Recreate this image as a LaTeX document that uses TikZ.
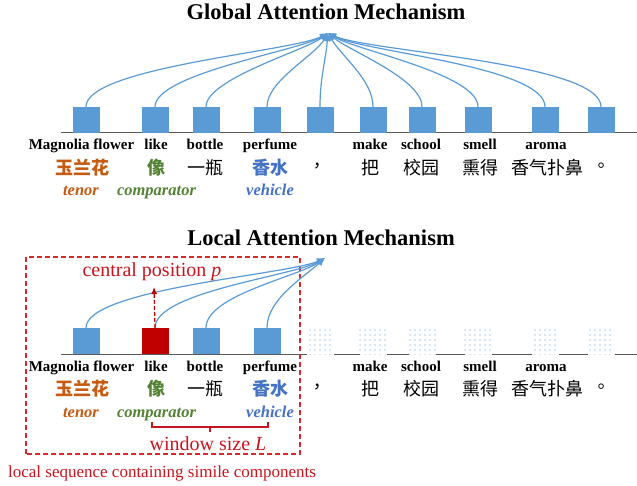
\documentclass[tikz,border=0pt]{standalone}
\usepackage{fontspec}
\setmainfont{Liberation Serif}
\newfontfamily\cjk{Noto Sans CJK SC}
\newfontfamily\cjkpunct{Noto Sans CJK TC}
\usetikzlibrary{arrows.meta,patterns.meta}

\definecolor{boxblue}{HTML}{5B9BD5}
\definecolor{boxred}{HTML}{C00000}
\definecolor{notered}{RGB}{200,20,30}
\definecolor{dashred}{RGB}{215,40,45}
\definecolor{tenorc}{HTML}{C55A11}
\definecolor{compc}{HTML}{548235}
\definecolor{vehc}{HTML}{4472C4}
\newcommand{\fs}[1]{\fontsize{#1}{#1}\selectfont}

\begin{document}
\begin{tikzpicture}[x=1pt, y=1pt,
        token/.style={fill=boxblue, minimum width=27pt, minimum height=26pt, inner sep=0pt},
        centre/.style={token, fill=boxred},
        hidden/.style={minimum width=27pt, minimum height=27pt, inner sep=0pt,
            preaction={fill=white}, pattern={Dots[distance=5pt, radius=0.7pt]}, pattern color=boxblue},
        word/.style={font=\bfseries\fs{15}, anchor=base, inner sep=0pt},
        hanzi/.style={font=\cjk\fs{18}, inner sep=0pt},
        punct/.style={font=\cjkpunct\fs{18}, inner sep=0pt},
        tenorhz/.style={hanzi, font=\cjk\bfseries\fs{18}, text=tenorc},
        comphz/.style={hanzi, font=\cjk\bfseries\fs{18}, text=compc},
        vehhz/.style={hanzi, font=\cjk\bfseries\fs{18}, text=vehc},
        role/.style={font=\bfseries\itshape\fs{16.5}, anchor=base, inner sep=0pt},
        heading/.style={font=\bfseries\fs{22.5}, anchor=base, inner sep=0pt},
        note/.style={text=notered, font=\fs{20}, anchor=base, inner sep=0pt},
        axis/.style={draw=black!65, line width=1pt},
        attn/.style={draw=boxblue, line width=1.2pt, -{Latex[length=8pt, width=7pt]}}
    ]
    \useasboundingbox (0,0) rectangle (637,485);

    \node[heading] (gt) at (326,465) {Global Attention Mechanism};
    \node[heading] (lt) at (321,239) {Local Attention Mechanism};

    % the two sentences
    \draw[axis] (61,352) -- (637,352);
    \draw[axis] (61,131) -- (637,131);

    \foreach \x [count=\i] in {86,155,206,267,320,373,422,478,545,601}
        \node[token] (g\i) at (\x,365) {};
    \foreach \x/\st [count=\i] in {86/token,155/centre,206/token,267/token,320/hidden,
            373/hidden,422/hidden,478/hidden,545/hidden,601/hidden}
        \node[style=\st] (l\i) at (\x,144) {};

    \foreach \s/\dy in {g/0,l/-221}{
        \begin{scope}[yshift=\dy]
            \foreach \x/\t [count=\i] in {81.5/Magnolia flower,156/like,205/bottle,270/perfume,
                    370/make,421/school,480/smell,546/aroma}
                \node[word] (\s w\i) at (\x,335) {\t};
            \foreach \x/\st/\t [count=\i] in {82/tenorhz/玉兰花,156.5/comphz/像,205/hanzi/一瓶,
                    270/vehhz/香水,317/punct/，,370/hanzi/把,421.5/hanzi/校园,480.5/hanzi/熏得,
                    547.6/hanzi/香气扑鼻,601.6/punct/。}
                \node[style=\st] (\s h\i) at (\x,317) {\t};
            \foreach \x/\c/\t [count=\i] in {81/tenorc/tenor,156.5/compc/comparator,270/vehc/vehicle}
                \node[role, text=\c] (\s r\i) at (\x,289) {\t};
        \end{scope}
    }

    % global attention
    \coordinate (ga) at (328,452);
    \draw[attn] (g1.north) to[out=90, in=208, looseness=0.4] (ga);
    \draw[attn] (g2.north) to[out=90, in=212, looseness=0.45] (ga);
    \draw[attn] (g3.north) to[out=90, in=218, looseness=0.5] (ga);
    \draw[attn] (g4.north) to[out=90, in=240, looseness=0.7] (ga);
    \draw[attn] (g5.north) to[out=90, in=265, looseness=1] (ga);
    \draw[attn] (g6.north) to[out=90, in=300, looseness=0.8] (ga);
    \draw[attn] (g7.north) to[out=90, in=320, looseness=0.6] (ga);
    \draw[attn] (g8.north) to[out=90, in=328, looseness=0.5] (ga);
    \draw[attn] (g9.north) to[out=90, in=332, looseness=0.45] (ga);
    \draw[attn] (g10.north) to[out=90, in=335, looseness=0.4] (ga);

    % local attention
    \coordinate (la) at (325,227);
    \coordinate (cp) at (154,198);
    \draw[dashred, dash pattern=on 5pt off 3pt, line width=1.2pt] (26,31) rectangle (300,228);
    \draw[attn] (l1.north) to[out=90, in=205, looseness=0.4] (la);
    \draw[attn] (l2.north) to[out=90, in=210, looseness=0.5] (la);
    \draw[attn] (l3.north) to[out=90, in=215, looseness=0.6] (la);
    \draw[attn] (l4.north) to[out=90, in=222, looseness=0.8] (la);
    \draw[boxred, dash pattern=on 4pt off 2pt, line width=1.2pt, -{Latex[length=7pt, width=6pt]}] (l2.north) -- (cp);

    \node[note] (cpos) at (152,208) {central position \textit{p}};
    \draw[notered, line width=1.2pt] (152,63) -- (152,58) -- (268,58) -- (268,63) (210,58) -- (210,53);
    \node[note] (win) at (208,35) {window size \textit{L}};
    \node[note, font=\fs{17}] (seq) at (162,8) {local sequence containing simile components};
\end{tikzpicture}
\end{document}
